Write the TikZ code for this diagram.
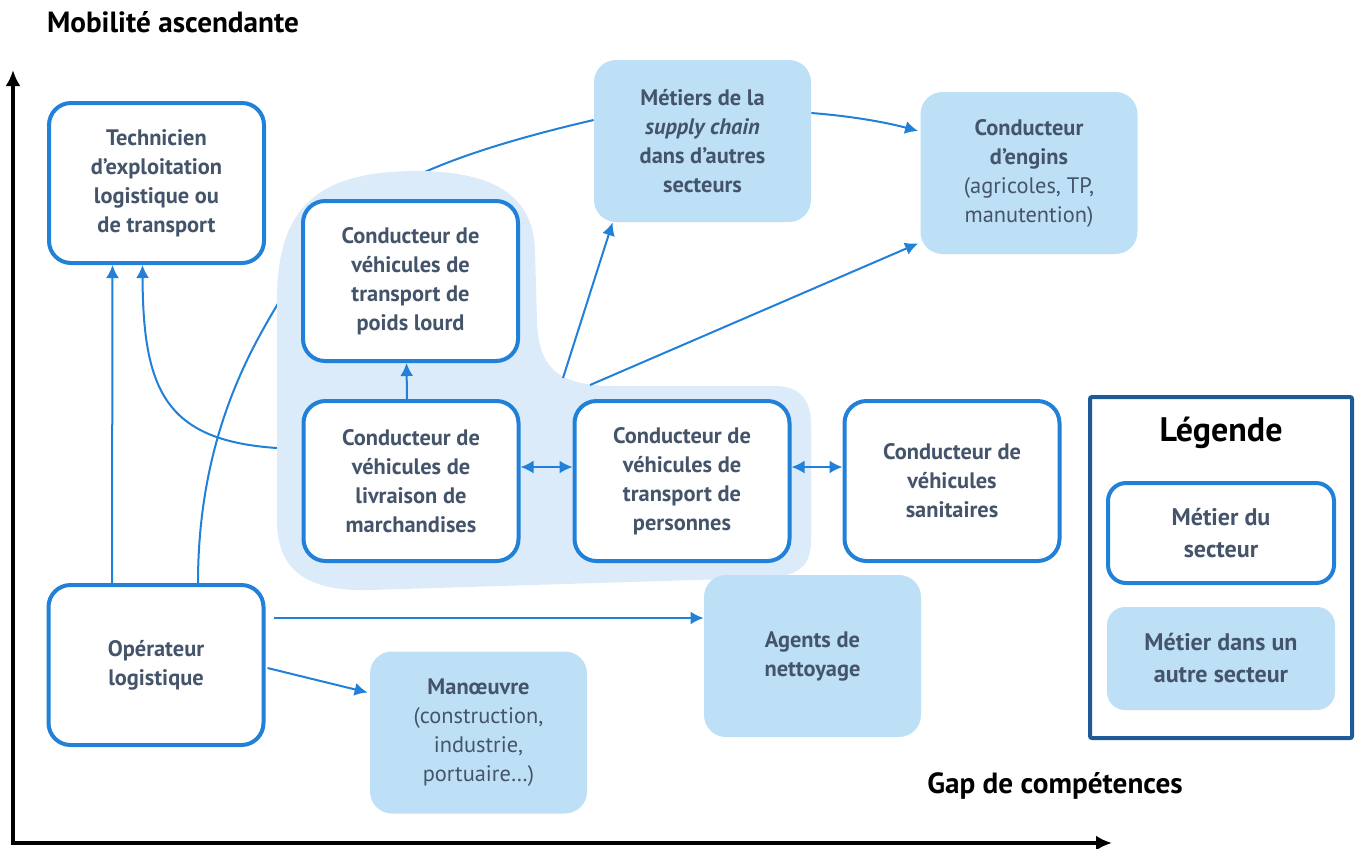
\documentclass[tikz,border=0pt]{standalone}
\usepackage{fontspec}
\setmainfont{PT Sans}
\usepackage{xcolor}
\usetikzlibrary{arrows.meta,backgrounds}
\definecolor{jobblue}{RGB}{33,128,215}
\definecolor{jobtext}{RGB}{68,84,106}
\definecolor{extfill}{RGB}{190,224,247}
\definecolor{blobfill}{RGB}{220,235,249}
\definecolor{legblue}{RGB}{30,90,150}

\begin{document}
\begin{tikzpicture}[x=0.5pt,y=-0.5pt]

		\tikzset{job/.style = {shape=rectangle,rounded corners=11pt,draw=jobblue,line width=2pt,fill=white,text=jobtext,align=center,inner sep=0pt,minimum width=107.5pt,minimum height=80pt,font=\fontsize{11.2}{14.5}\selectfont\bfseries}}
		\tikzset{extjob/.style = {shape=rectangle,rounded corners=11pt,fill=extfill,text=jobtext,align=center,inner sep=0pt,minimum width=108.5pt,minimum height=81pt,font=\fontsize{11.2}{14.5}\selectfont\bfseries}}
		\tikzset{edge/.style = {-{Latex[length=6.5pt,width=6.5pt]},draw=jobblue,line width=1pt}}
		\tikzset{dedge/.style = {{Latex[length=6.5pt,width=6.5pt]}-{Latex[length=6.5pt,width=6.5pt]},draw=jobblue,line width=1pt}}
		\tikzset{line/.style = {-,draw=jobblue,line width=1pt}}
		\tikzset{axis/.style = {-{Latex[length=8pt,width=7.5pt]},line width=2pt}}
		\tikzset{title/.style = {font=\fontsize{14.6}{17}\selectfont\bfseries}}

		\useasboundingbox (0,0) rectangle (1361,848);

		% axes
		\coordinate (O) at (13,843);
		\coordinate (Ytop) at (13,70);
		\coordinate (Xend) at (1112,843);
		\draw[axis] ([yshift=-1pt]O) -- (Ytop);
		\draw[axis] ([xshift=-1pt]O) -- (Xend);
		\node[title] (ylab) at (173,22) {Mobilité ascendante};
		\node[title] (xlab) at (1055,786) {Gap de compétences};

		% jobs of the sector
		\node[job] (tech) at (156.5,183) {Technicien\\d’exploitation\\logistique ou\\de transport};
		\node[job] (poids) at (410.5,281) {Conducteur de\\véhicules de\\transport de\\poids lourd};
		\node[job] (livr) at (411,481) {Conducteur de\\véhicules de\\livraison de\\marchandises};
		\node[job] (pers) at (682,481) {Conducteur de\\véhicules de\\transport de\\personnes};
		\node[job] (sani) at (952,481) {Conducteur de\\véhicules\\sanitaires};
		\node[job] (oper) at (156,665) {Opérateur\\logistique};

		% jobs of other sectors
		\node[extjob] (supply) at (702.5,141) {Métiers de la\\\textit{supply chain}\\dans d’autres\\secteurs};
		\node[extjob] (engins) at (1029,173) {Conducteur\\d’engins\\\mdseries(agricoles, TP,\\\mdseries manutention)};
		\node[extjob] (agents) at (812.5,656) {Agents de\\nettoyage};
		\node[extjob] (manoeuvre) at (478.5,732.5) {Manœuvre\\\mdseries(construction,\\\mdseries industrie,\\\mdseries portuaire…)};

		% legend
		\node[draw=legblue,line width=2pt,rounded corners=1pt,minimum width=131pt,minimum height=170.5pt] (legend) at (1221,567.5) {};
		\node[font=\fontsize{17}{20}\selectfont\bfseries] (legtitle) at (1221,433) {Légende};
		\node[job,rounded corners=9pt,minimum width=113pt,minimum height=50pt,font=\fontsize{12}{16}\selectfont\bfseries] (legsec) at (1221,533) {Métier du\\secteur};
		\node[extjob,rounded corners=9pt,minimum width=114pt,minimum height=51.5pt,font=\fontsize{12}{16}\selectfont\bfseries] (legother) at (1221,658.5) {Métier dans un\\autre secteur};

		% group of drivers
		\begin{scope}[on background layer]
		\draw[line] ([xshift=21pt]oper.north) .. controls (198,430) and (257,340) .. (280,300)
			.. controls (330,210) and (400,165) .. ([yshift=10.5pt]supply.west);
		\draw[edge] ([yshift=16pt]livr.west) .. controls (170,447) and (143,400) .. ([xshift=-7pt]tech.south);
		\fill[blobfill] (277,300) .. controls (277,205) and (320,173) .. (410,171)
			.. controls (490,170) and (533,193) .. (535,250) -- (537,320)
			.. controls (538,365) and (555,385) .. (610,386) -- (775,386)
			.. controls (800,386) and (811,400) .. (811,425) -- (811,540)
			.. controls (811,570) and (795,577) .. (760,578) -- (370,590)
			.. controls (300,592) and (277,565) .. (277,520) -- cycle;
		\end{scope}
		\coordinate (blobA) at (563,378);
		\coordinate (blobB) at (590,385);

		%edges
		\draw[edge] ([xshift=-22pt]oper.north) -- ([xshift=-22pt]tech.south);
		\draw[edge] ([xshift=-2pt]livr.north) -- ([xshift=-2pt]poids.south);
		\draw[dedge] ([yshift=7pt]livr.east) -- ([yshift=7pt]pers.west);
		\draw[dedge] ([yshift=7pt]pers.east) -- ([yshift=7pt]sani.west);
		\draw[edge] (blobA) -- ([xshift=9.5pt]supply.south west);
		\draw[edge] (blobB) -- ([yshift=5.5pt,xshift=-1pt]engins.south west);
		\draw[edge] ([yshift=14pt]supply.east) .. controls (850,116) and (885,122) .. ([yshift=21pt,xshift=-1pt]engins.west);
		\draw[edge] ([xshift=4pt,yshift=23.5pt]oper.east) -- ([yshift=19pt]agents.west);
		\draw[edge] ([xshift=1pt,yshift=-1.5pt]oper.east) -- ([xshift=-1pt,yshift=20pt]manoeuvre.west);
		\end{tikzpicture}
\end{document}
